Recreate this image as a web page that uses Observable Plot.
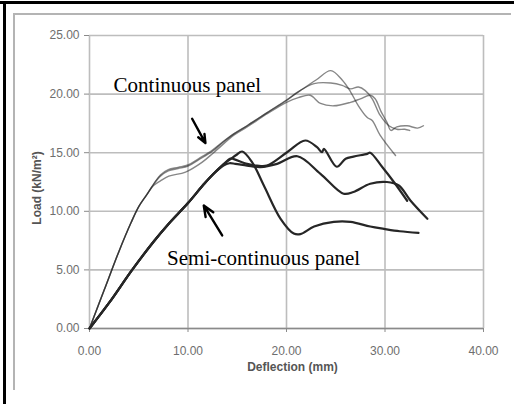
<!DOCTYPE html>
<html>
<head>
<meta charset="utf-8">
<script src="https://cdn.jsdelivr.net/npm/d3@7"></script>
<script src="https://cdn.jsdelivr.net/npm/@observablehq/plot@0.6"></script>
<style>
  html, body { margin: 0; padding: 0; background: #fff; }
  #wrap { position: relative; width: 514px; height: 404px; overflow: hidden; }
  #wrap svg { position: absolute; left: 0; top: 0; }
  .ln { position: absolute; }
</style>
</head>
<body>
<div id="wrap"></div>
<script>
// ---- Data ----
const xTicks = [0, 10, 20, 30, 40];
const yTicks = [0, 5, 10, 15, 20, 25];

// Continuous panels (grey)
const c1Defl = [0, 1.5, 3, 4.2, 5, 5.8, 6.5, 7.2, 8, 9, 10, 11.1, 12.45, 13.5, 14.65, 16, 18, 20, 21.4, 23, 24.5, 25.65, 26.5, 27.3, 28.2, 28.7, 29.5, 31.07];
const c1Load = [0, 3.3, 6.6, 9.0, 10.4, 11.4, 12.3, 13.1, 13.55, 13.75, 13.95, 14.5, 15.2, 15.9, 16.6, 17.3, 18.4, 19.5, 20.3, 21.2, 22.0, 21.2, 20.2, 19.0, 18.0, 17.75, 16.5, 14.76];

const c2Defl = [0, 1.5, 3, 4.2, 5, 5.8, 6.5, 7.2, 8, 9, 10, 11.1, 12.45, 13.5, 14.65, 16, 18, 20, 21, 22.8, 24.5, 25.65, 26.5, 27.3, 28.0, 28.7, 29.5, 30.4, 31.2, 32.0, 32.5];
const c2Load = [0, 3.3, 6.6, 9.0, 10.4, 11.4, 12.3, 13.0, 13.45, 13.65, 13.85, 14.4, 15.1, 15.85, 16.6, 17.3, 18.4, 19.45, 20.1, 20.9, 20.95, 20.75, 20.45, 20.6, 20.3, 19.6, 18.2, 17.3, 17.0, 17.0, 16.9];

const c3Defl = [0, 1.5, 3, 4.2, 5, 5.8, 6.5, 7.2, 8.05, 9.75, 11.45, 12.6, 14.65, 16, 18, 20, 21.2, 22.4, 23.45, 24.8, 26.5, 27.5, 28.5, 29.0, 29.6, 30.2, 30.6, 31.2, 32.25, 33.3, 33.9];
const c3Load = [0, 3.3, 6.6, 9.0, 10.4, 11.4, 12.2, 12.6, 13.0, 13.35, 14.2, 15.0, 16.5, 17.2, 18.3, 19.3, 19.7, 19.9, 19.2, 19.0, 19.3, 19.6, 19.9, 19.6, 18.5, 17.6, 16.9, 17.2, 17.3, 17.1, 17.3];

// Semi-continuous panels (black)
const s1Defl = [0, 2, 4.33, 6.5, 8, 10, 11.6, 12.6, 13.6, 14.4, 14.9, 15.5, 16.5, 17.7, 19.4, 20.74, 21.4, 22.8, 24.8, 26.5, 28.5, 29.9, 31.5, 33.4];
const s1Load = [0, 2.2, 5.0, 7.4, 8.9, 10.7, 12.3, 13.2, 14.0, 14.5, 14.8, 15.1, 14.2, 12.2, 9.36, 8.1, 8.05, 8.7, 9.1, 9.1, 8.7, 8.5, 8.3, 8.16];

const s2Defl = [0, 2, 4.33, 6.5, 8, 10, 11.6, 12.6, 13.6, 14.3, 14.65, 16, 17, 18, 20.06, 21.9, 23.1, 23.6, 23.8, 25.1, 26.0, 26.8, 28.2, 28.5, 29.7, 30.9, 32.25];
const s2Load = [0, 2.2, 5.0, 7.4, 8.9, 10.7, 12.3, 13.2, 14.0, 14.5, 14.45, 14.05, 13.9, 13.9, 15.04, 16.04, 15.47, 15.04, 15.33, 13.8, 14.48, 14.67, 14.9, 15.0, 13.8, 12.5, 10.9];

const s3Defl = [0, 2, 4.33, 6.5, 8, 10, 11.6, 12.6, 13.6, 14.2, 14.8, 16, 17.35, 19.05, 21.1, 23.45, 25.8, 26.8, 28.5, 30.2, 31.4, 32.6, 34.3];
const s3Load = [0, 2.2, 5.0, 7.4, 8.9, 10.7, 12.3, 13.2, 13.9, 14.1, 14.05, 13.9, 13.77, 14.05, 14.7, 13.2, 11.5, 11.65, 12.35, 12.5, 12.2, 10.9, 9.36];

// Annotations
const noteText = ["Continuous panel", "Semi-continuous panel"];
const noteX = [2.44, 7.88];
const noteY = [20.73, 6.03];

const arrowX1 = [10.42, 13.47];
const arrowY1 = [17.9, 7.94];
const arrowX2 = [11.77, 11.6];
const arrowY2 = [15.82, 10.5];

// ---- Build tables ----
const toRows = (xs, ys, id) => xs.map((x, i) => ({x, y: ys[i], id}));
const continuous = [
  ...toRows(c1Defl, c1Load, "c1"),
  ...toRows(c2Defl, c2Load, "c2"),
  ...toRows(c3Defl, c3Load, "c3")
];
const semi = [
  ...toRows(s1Defl, s1Load, "s1"),
  ...toRows(s2Defl, s2Load, "s2"),
  ...toRows(s3Defl, s3Load, "s3")
];
const notes = noteText.map((t, i) => ({t, x: noteX[i], y: noteY[i]}));
const arrows = arrowX1.map((x1, i) => ({x1, y1: arrowY1[i], x2: arrowX2[i], y2: arrowY2[i]}));

const chart = Plot.plot({
  width: 514,
  height: 404,
  marginLeft: 89,
  marginRight: 31,
  marginTop: 35,
  marginBottom: 76,
  style: {background: "transparent", fontFamily: "Liberation Sans, Arial, sans-serif"},
  x: {domain: [0, 40]},
  y: {domain: [0, 25]},
  marks: [
    Plot.gridX(xTicks, {stroke: "#bdbdbd", strokeOpacity: 1, strokeWidth: 1.6}),
    Plot.gridY(yTicks, {stroke: "#bdbdbd", strokeOpacity: 1, strokeWidth: 1.6}),
    Plot.ruleY([0], {stroke: "#8a8a8a", strokeWidth: 1.4}),
    Plot.axisX(xTicks, {tickFormat: d => d.toFixed(2), tickSize: 4, tickPadding: 14, fontSize: 12, stroke: "#8a8a8a", fill: "#6e6e6e", label: null}),
    Plot.axisY(yTicks, {tickFormat: d => d.toFixed(2), tickSize: 5, tickPadding: 5, fontSize: 12, stroke: "#8a8a8a", fill: "#6e6e6e", label: null}),
    Plot.text(["Deflection (mm)"], {frameAnchor: "bottom", lineAnchor: "middle", dy: 39, dx: 6, fontSize: 12, fontWeight: "bold", fill: "#555"}),
    Plot.text(["Load (kN/m²)"], {frameAnchor: "left", lineAnchor: "middle", textAnchor: "middle", rotate: -90, dx: -52, dy: 6, fontSize: 12, fontWeight: "bold", fill: "#555"}),
    Plot.line(continuous, {x: "x", y: "y", z: "id", stroke: "#222", strokeOpacity: 0.55, strokeWidth: 1.4, curve: "catmull-rom"}),
    Plot.line(semi, {x: "x", y: "y", z: "id", stroke: "#262626", strokeWidth: 2.2, curve: "catmull-rom"}),
    Plot.arrow(arrows, {x1: "x1", y1: "y1", x2: "x2", y2: "y2", stroke: "#000", strokeWidth: 2.4, headLength: 9, headAngle: 45}),
    Plot.text(notes, {x: "x", y: "y", text: "t", textAnchor: "start", lineAnchor: "middle", fontSize: 21, fontFamily: "Liberation Serif, Times New Roman, serif", fill: "#000"})
  ]
});

const wrap = document.getElementById("wrap");
wrap.appendChild(chart);

// Outer frame lines of the original figure
function addLine(l, t, w, h, c) {
  const d = document.createElement("div");
  d.className = "ln";
  d.style.left = l + "px"; d.style.top = t + "px";
  d.style.width = w + "px"; d.style.height = h + "px";
  d.style.background = c;
  wrap.appendChild(d);
}
addLine(0, 1, 514, 3, "#000");
addLine(3, 1, 3, 403, "#000");
addLine(13, 13, 498, 2, "#b4b4b4");
addLine(13, 13, 2, 377, "#b4b4b4");
</script>
</body>
</html>
